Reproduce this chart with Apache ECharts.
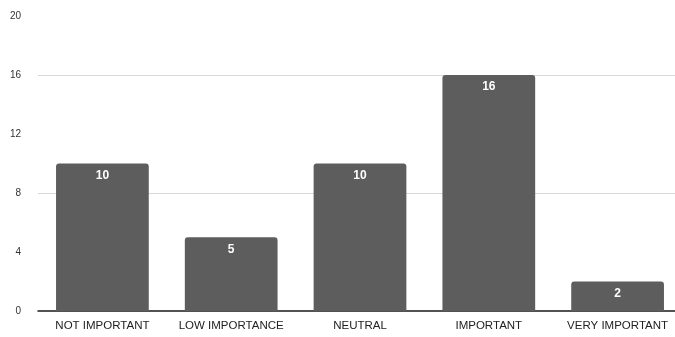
<!DOCTYPE html>
<html>
<head>
<meta charset="utf-8">
<script src="https://cdn.jsdelivr.net/npm/echarts@6/dist/echarts.min.js"></script>
<style>
  html, body { margin: 0; padding: 0; background: #fff; }
  #chart { width: 675px; height: 337px; }
</style>
</head>
<body>
<div id="chart"></div>
<script>
// Survey responses by importance level
const categories = ['NOT IMPORTANT', 'LOW IMPORTANCE', 'NEUTRAL', 'IMPORTANT', 'VERY IMPORTANT'];
const counts = [10, 5, 10, 16, 2];
const yTicks = [0, 4, 8, 12, 16, 20];
const guideValues = [8, 16];

const chart = echarts.init(document.getElementById('chart'));
chart.setOption({
  animation: false,
  grid: { left: 38, width: 644, top: 16, bottom: 26, outerBoundsMode: 'none', containLabel: false },
  xAxis: {
    type: 'category',
    data: categories,
    axisTick: { show: false },
    axisLine: { lineStyle: { color: '#1a1a1a', width: 1.5 } },
    axisLabel: {
      interval: 0,
      color: '#222',
      fontFamily: 'Liberation Sans, Arial, sans-serif',
      fontSize: 11.5,
      margin: 9
    }
  },
  yAxis: {
    type: 'value',
    min: yTicks[0],
    max: yTicks[yTicks.length - 1],
    interval: yTicks[1] - yTicks[0],
    axisLine: { show: false },
    axisTick: { show: false },
    splitLine: { show: false },
    axisLabel: {
      color: '#333',
      fontFamily: 'Liberation Sans, Arial, sans-serif',
      fontSize: 10,
      margin: 17
    }
  },
  series: [{
    type: 'bar',
    data: counts,
    barCategoryGap: '28%',
    itemStyle: { color: '#5d5d5d', borderRadius: [3, 3, 0, 0] },
    label: {
      show: true,
      position: 'insideTop',
      distance: 6,
      color: '#fff',
      fontFamily: 'Liberation Sans, Arial, sans-serif',
      fontSize: 12,
      fontWeight: 'bold'
    },
    markLine: {
      silent: true,
      symbol: 'none',
      label: { show: false },
      lineStyle: { color: '#d8d8d8', type: 'solid', width: 1 },
      data: guideValues.map(v => ({ yAxis: v })),
      z: 0
    },
    z: 2
  }]
});
</script>
</body>
</html>
